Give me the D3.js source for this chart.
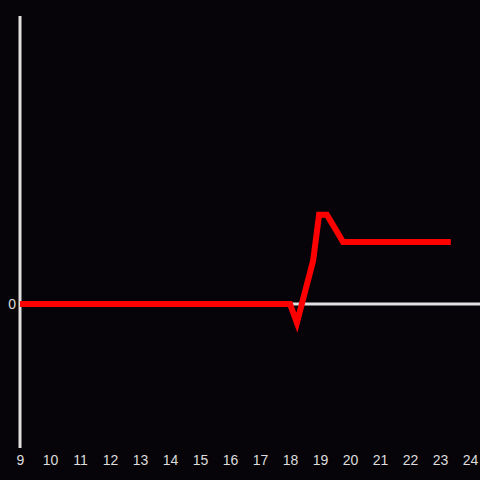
<!DOCTYPE html>
<html>
<head>
<meta charset="utf-8">
<script src="https://cdn.jsdelivr.net/npm/d3@7"></script>
<style>
  html, body { margin: 0; padding: 0; background: #060408; }
  svg { display: block; }
</style>
</head>
<body>
<div id="chart"></div>
<script>
// data
const hours = [9, 18, 18.23, 18.77, 18.97, 19.23, 19.77, 23.36];
const values = [0, 0, -0.13, 0.3, 0.62, 0.62, 0.43, 0.43];
const xTicks = d3.range(9, 25);
const yTicks = [0];

const width = 480, height = 480;
const margin = { top: 16, right: 10, bottom: 32, left: 20 };

const svg = d3.select('#chart').append('svg')
  .attr('width', width)
  .attr('height', height);

svg.append('rect')
  .attr('width', width)
  .attr('height', height)
  .attr('fill', '#060408');

const x = d3.scaleLinear()
  .domain([9, 24])
  .range([margin.left, width - margin.right]);

const y = d3.scaleLinear()
  .domain([-1, 2])
  .range([height - margin.bottom, margin.top]);

// x tick labels only, no axis line
const xAxis = svg.append('g')
  .attr('transform', `translate(0,${height - margin.bottom})`)
  .call(d3.axisBottom(x).tickValues(xTicks).tickFormat(d3.format('d')).tickSize(0).tickPadding(7));
xAxis.select('.domain').remove();
xAxis.selectAll('.tick text')
  .attr('fill', '#dddddd')
  .attr('font-family', 'Liberation Sans, Arial, sans-serif')
  .attr('font-size', '14px');

// y axis line
svg.append('line')
  .attr('x1', x(9)).attr('x2', x(9))
  .attr('y1', y(2)).attr('y2', y(-1))
  .attr('stroke', '#e0e0e0')
  .attr('stroke-width', 3);

// zero line + label
const yAxis = svg.append('g')
  .attr('transform', `translate(${margin.left},0)`)
  .call(d3.axisLeft(y).tickValues(yTicks).tickFormat(d3.format('d')).tickSize(0).tickPadding(4));
yAxis.select('.domain').remove();
yAxis.selectAll('.tick text')
  .attr('fill', '#dddddd')
  .attr('font-family', 'Liberation Sans, Arial, sans-serif')
  .attr('font-size', '14px');

svg.append('line')
  .attr('x1', x(9)).attr('x2', width)
  .attr('y1', y(0)).attr('y2', y(0))
  .attr('stroke', '#e0e0e0')
  .attr('stroke-width', 3);

// red series
const line = d3.line()
  .x((d, i) => x(hours[i]))
  .y(d => y(d));

svg.append('path')
  .datum(values)
  .attr('d', line)
  .attr('fill', 'none')
  .attr('stroke', '#ff0000')
  .attr('stroke-width', 6);
</script>
</body>
</html>
